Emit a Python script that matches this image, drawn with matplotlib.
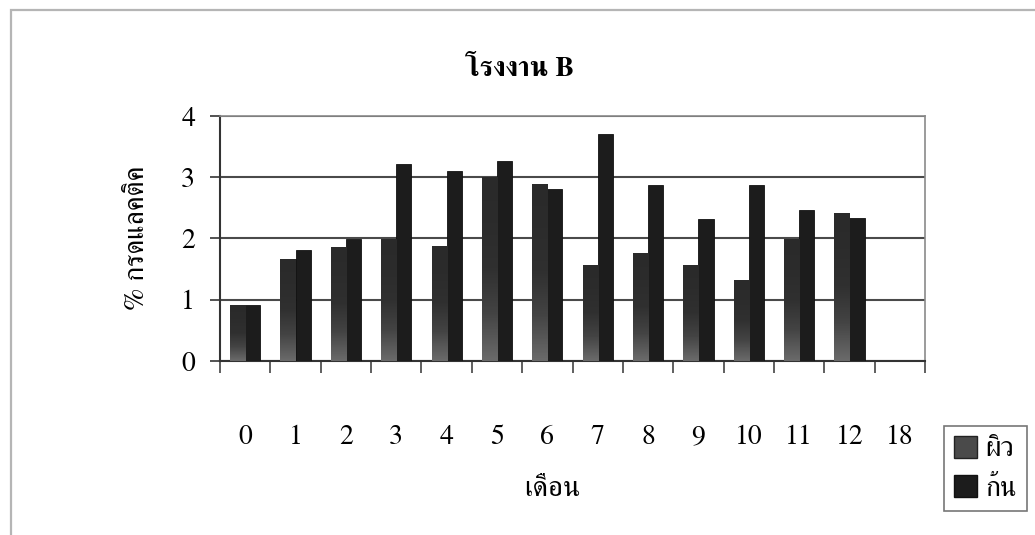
import matplotlib
matplotlib.use("Agg")
import matplotlib.pyplot as plt
import numpy as np
from matplotlib.patches import Patch, Rectangle
from matplotlib.colors import LinearSegmentedColormap

plt.rcParams['font.family'] = ['FreeSerif', 'DejaVu Serif']

months = ['0', '1', '2', '3', '4', '5', '6', '7', '8', '9', '10', '11', '12', '18']
skin = [0.91, 1.67, 1.86, 1.99, 1.88, 3.0, 2.89, 1.56, 1.76, 1.56, 1.33, 1.99, 2.42, np.nan]
butt = [0.91, 1.82, 1.99, 3.22, 3.11, 3.26, 2.80, 3.71, 2.87, 2.32, 2.87, 2.47, 2.33, np.nan]

W, H = 1035, 535
fig = plt.figure(figsize=(W / 100, H / 100), dpi=100)
fig.patch.set_facecolor('white')

# chart area border
fig.patches.append(Rectangle((11 / W, -0.05), 1.1, 1 - 10 / H + 0.05, transform=fig.transFigure,
                             fill=False, edgecolor='#b5b5b5', lw=1.6))

ax = fig.add_axes([220 / W, 1 - 361 / H, 705 / W, 245 / H])
x = np.arange(len(months))
bw = 0.3

bars_skin = ax.bar(x - bw / 2, skin, bw, color='#333333', edgecolor='#1a1a1a', lw=0.6, zorder=3)
bars_butt = ax.bar(x + bw / 2, butt, bw, color='#1c1c1c', edgecolor='#111111', lw=0.6, zorder=3)

# gradient fill for the skin bars (lighter at the bottom)
grad = LinearSegmentedColormap.from_list('g', ['#6a6a6a', '#444444', '#303030', '#2c2c2c', '#2a2a2a'])
for b in bars_skin:
    h = b.get_height()
    if not np.isfinite(h):
        continue
    im = ax.imshow(np.linspace(0, 1, 64).reshape(-1, 1), cmap=grad, aspect='auto', origin='lower',
                   extent=(b.get_x(), b.get_x() + b.get_width(), 0, h), zorder=3.5)
    im.set_clip_path(b)

ax.set_xlim(-0.5, len(months) - 0.5)
ax.set_ylim(0, 4)
ax.set_yticks([0, 1, 2, 3, 4])
ax.yaxis.grid(True, color='#4a4a4a', lw=1.5, zorder=1)
ax.set_axisbelow(True)

ax.set_xticks(np.arange(len(months) + 1) - 0.5)
ax.set_xticklabels([])
ax.set_xticks(x, months, minor=True)
ax.tick_params(axis='x', which='major', direction='out', length=8.5, width=1.2, color='#444444')
ax.tick_params(axis='x', which='minor', length=0, pad=46, labelsize=20)
ax.tick_params(axis='y', direction='out', length=7, width=1.3, color='#444444', pad=11, labelsize=20)

for s in ['left', 'bottom']:
    ax.spines[s].set_color('#333333')
    ax.spines[s].set_linewidth(1.5)
for s in ['top', 'right']:
    ax.spines[s].set_color('#8a8a8a')
    ax.spines[s].set_linewidth(1.2)

fig.text(519 / W, 1 - 70 / H, 'โรงงาน B', ha='center', va='center', fontsize=20, fontweight='bold')
fig.text(137 / W, 1 - 238 / H, '% กรดแลคติค', ha='center', va='center', rotation=90, fontsize=20)
fig.text(552 / W, 1 - 489 / H, 'เดือน', ha='center', va='center', fontsize=21)

handles = [Patch(facecolor='#4a4a4a', edgecolor='#222222'), Patch(facecolor='#1c1c1c', edgecolor='#111111')]
leg = fig.legend(handles, ['ผิว', 'ก้น'], loc='upper left', bbox_to_anchor=(944 / W, 1 - 426 / H),
                 fontsize=20, frameon=True, fancybox=False, handlelength=0.85, handleheight=0.85,
                 handletextpad=0.3, borderpad=0.35, labelspacing=0.45, borderaxespad=0)
leg.get_frame().set_edgecolor('#555555')
leg.get_frame().set_linewidth(1.2)

fig.savefig('out.png', dpi=100, facecolor='white')
